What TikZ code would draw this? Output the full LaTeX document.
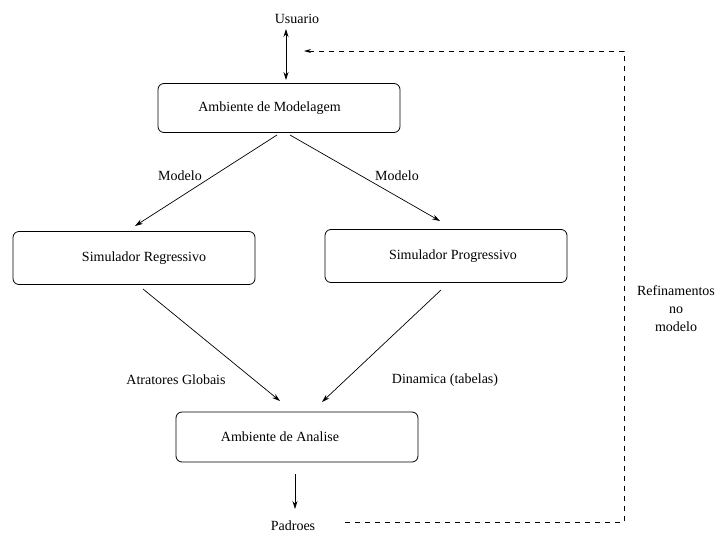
\documentclass[tikz,border=0pt]{standalone}
\usepackage{fontspec}
\setmainfont{Liberation Serif}
\usetikzlibrary{arrows.meta}
\begin{document}
\begin{tikzpicture}[x=1pt,y=-1pt,
  font=\fontsize{14}{16}\selectfont,
  box/.style={draw, rounded corners=6pt, minimum width=242pt, minimum height=49pt, inner sep=0pt, line width=0.8pt},
  arr/.style={-{Stealth[length=8pt,width=5pt]}, line width=0.7pt},
  dashline/.style={dashed, dash pattern=on 5pt off 5pt, line width=0.9pt},
  lbl/.style={inner sep=1pt}]
\useasboundingbox (0,0) rectangle (728,536);
% nodes
\node[lbl] (user) at (297,19) {Usuario};
\node[box] (mod) at (279,108) {\hspace*{-19pt}Ambiente de Modelagem};
\node[box, minimum height=53pt] (reg) at (134,258) {\hspace*{20pt}Simulador Regressivo};
\node[box, minimum height=53pt] (prog) at (446,256) {\hspace*{14pt}Simulador Progressivo};
\node[box, minimum height=50pt] (ana) at (297,437) {\hspace*{-34pt}Ambiente de Analise};
\node[lbl] (pad) at (293,526) {Padroes};
\node[lbl, align=center, font=\fontsize{14}{18}\selectfont] (ref) at (676,309) {Refinamentos\\no\\modelo};
\node[lbl] (mlab1) at (180,176) {Modelo};
\node[lbl] (mlab2) at (397,176) {Modelo};
\node[lbl] (atr) at (176,380) {Atratores Globais};
\node[lbl] (din) at (445,380) {Dinamica (tabelas)};
% connector anchor points
\coordinate (uTop) at (286,29);
\coordinate (uBot) at (286,80);
\coordinate (mL) at (277,135);
\coordinate (mR) at (290,135);
\coordinate (rIn) at (135,226);
\coordinate (pIn) at (440,221);
\coordinate (rOut) at (143,289);
\coordinate (pOut) at (441,290);
\coordinate (aL) at (280,401);
\coordinate (aR) at (322,402);
\coordinate (aOut) at (295,474);
\coordinate (pTop) at (295,509);
\coordinate (fbIn) at (304,51);
\coordinate (c1) at (624,51);
\coordinate (c2) at (624,522);
\coordinate (fbStart) at (345,522);
% connectors
\draw[{Stealth[length=8pt,width=5pt]}-{Stealth[length=8pt,width=5pt]}, line width=0.8pt] (uTop) -- (uBot);
\draw[arr] (mL) -- (rIn);
\draw[arr] (mR) -- (pIn);
\draw[arr] (rOut) -- (aL);
\draw[arr] (pOut) -- (aR);
\draw[arr] (aOut) -- (pTop);
\draw[dashline, -{Stealth[length=7pt,width=4pt]}] (fbStart) -- (c2) -- (c1) -- (fbIn);
\end{tikzpicture}
\end{document}
